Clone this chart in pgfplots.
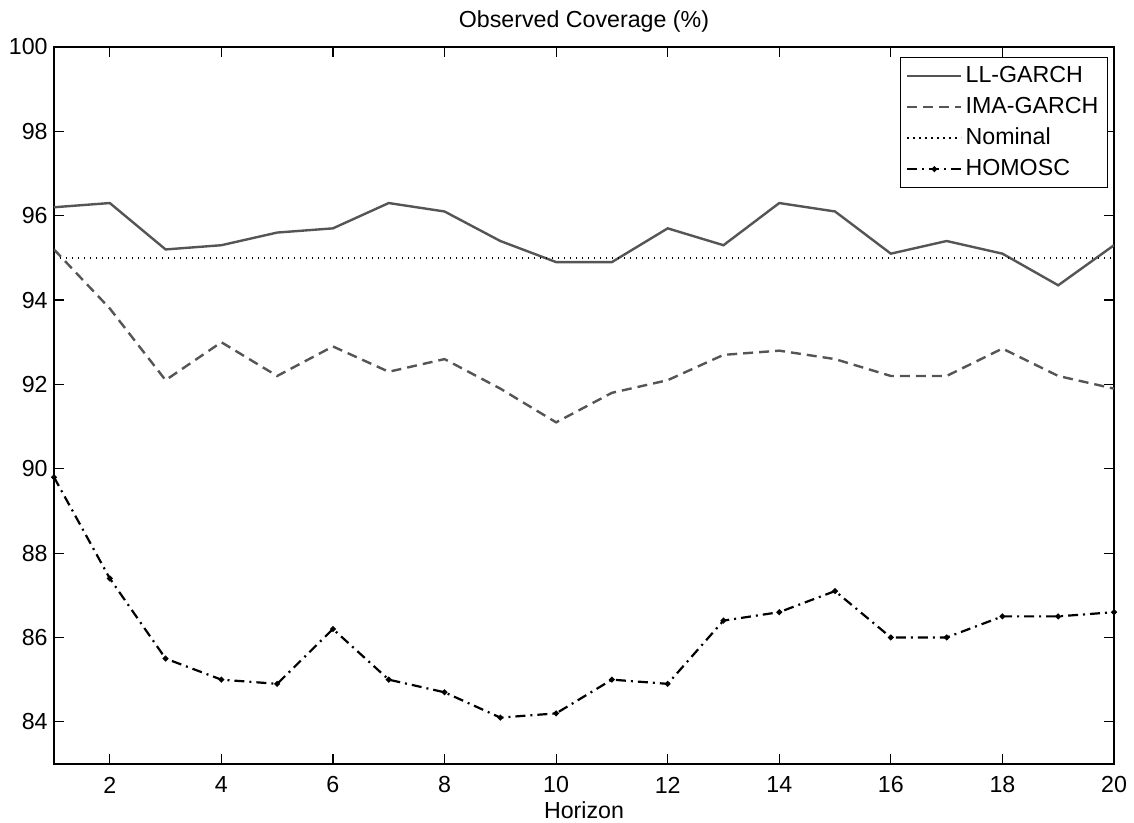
\documentclass[border=0pt]{standalone}
\usepackage{fontspec}
\setmainfont{Liberation Sans}
\usepackage{pgfplots}
\pgfplotsset{compat=1.18}
\definecolor{dgray}{RGB}{85,85,85}
\newcommand{\ff}{\fontsize{11.6}{13}\selectfont}
\begin{document}
\begin{tikzpicture}
\useasboundingbox (-27pt,-29.5pt) rectangle (540pt,382pt);
\begin{axis}[
  scale only axis,
  width=530pt, height=358.5pt,
  xmin=1, xmax=20, ymin=83, ymax=100,
  xtick={2,4,...,20}, ytick={84,86,...,100},
  tick align=inside,
  major tick length=5pt,
  axis line style={line width=0.7pt},
  every tick/.style={black, line width=0.6pt},
  /pgf/number format/assume math mode=true,
  tick label style={font=\ff},
  xticklabel style={anchor=center, yshift=-10.5pt, inner sep=0pt},
  yticklabel style={anchor=east, xshift=-3pt, inner sep=0pt},
  title={Observed Coverage (\%)},
  every axis title shift=0pt,
  title style={font=\ff, at={(0.5,1)}, anchor=center, yshift=12.5pt, inner sep=0pt},
  xlabel={Horizon},
  xlabel style={font=\ff, at={(0.5,0)}, anchor=center, yshift=-23pt, inner sep=0pt},
  legend style={at={(0.9943,0.986)}, anchor=north east, draw=black, line width=0.6pt,
    font=\ff, inner xsep=3pt, inner ysep=1.5pt, row sep=0pt,
    nodes={inner ysep=2pt, inner xsep=1.5pt, text height=9pt, text depth=2.5pt}},
  legend cell align=left,
  legend image code/.code={\draw[mark repeat=2, mark phase=2, #1] plot coordinates {(0pt,0pt) (13.5pt,0pt) (27pt,0pt)};},
]
\addplot[dgray, line width=1.2pt] coordinates {
(1,96.2) (2,96.3) (3,95.2) (4,95.3) (5,95.6) (6,95.7) (7,96.3) (8,96.1) (9,95.4) (10,94.9)
(11,94.9) (12,95.7) (13,95.3) (14,96.3) (15,96.1) (16,95.1) (17,95.4) (18,95.1) (19,94.35) (20,95.3)};
\addlegendentry{LL-GARCH}
\addplot[dgray, line width=1.2pt, dash pattern=on 5pt off 3pt] coordinates {
(1,95.2) (2,93.8) (3,92.1) (4,93.0) (5,92.2) (6,92.9) (7,92.3) (8,92.6) (9,91.9) (10,91.1)
(11,91.8) (12,92.1) (13,92.7) (14,92.8) (15,92.6) (16,92.2) (17,92.2) (18,92.85) (19,92.2) (20,91.9)};
\addlegendentry{IMA-GARCH}
\addplot[black, line width=0.8pt, dash pattern=on 0.6pt off 2.4pt] coordinates {(1,95) (20,95)};
\addlegendentry{Nominal}
\addplot[black, line width=1.1pt, dash pattern=on 5pt off 2.5pt on 1pt off 2.5pt,
  mark=*, mark size=0.8pt, mark options={solid}] coordinates {
(1,89.8) (2,87.4) (3,85.5) (4,85.0) (5,84.9) (6,86.2) (7,85.0) (8,84.7) (9,84.1) (10,84.2)
(11,85.0) (12,84.9) (13,86.4) (14,86.6) (15,87.1) (16,86.0) (17,86.0) (18,86.5) (19,86.5) (20,86.6)};
\addlegendentry{HOMOSC}
\end{axis}
\end{tikzpicture}
\end{document}
